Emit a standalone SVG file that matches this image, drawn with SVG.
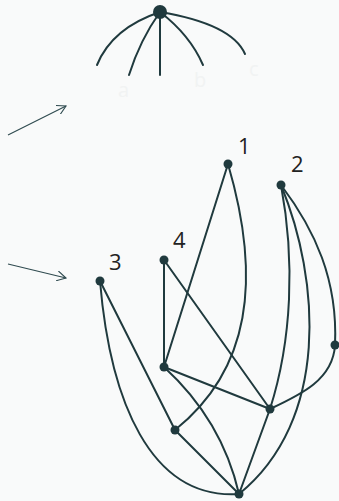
<svg xmlns="http://www.w3.org/2000/svg" width="339" height="501" viewBox="0 0 339 501">
<style>
.e{fill:none;stroke:#203a3e;stroke-width:2;stroke-linecap:round}
.n{fill:#203a3e}
.lbl{font-family:"Open Sans","Noto Sans",sans-serif;font-size:22px;fill:#222222}
.faint{font-family:"Open Sans","Noto Sans",sans-serif;font-size:20px;fill:#f1f3f3}
.arr{fill:none;stroke:#2f4a4f;stroke-width:1.1}
</style>
<defs>
<marker id="ah" viewBox="0 0 10 10" refX="9" refY="5" markerWidth="10" markerHeight="10" markerUnits="userSpaceOnUse" orient="auto">
<path d="M0,0 L9,5 L0,10" fill="none" stroke="#2f4a4f" stroke-width="1.1"/>
</marker>
</defs>
<rect width="339" height="501" fill="#f9fafa"/>
<g id="hub">
<g class="connectors">
<path class="e" d="M160,12 Q112,28 97,65"/>
<path class="e" d="M160,12 Q140,40 129,75"/>
<path class="e" d="M160,12 L160,75"/>
<path class="e" d="M160,12 Q190,35 203,65"/>
<path class="e" d="M160,12 Q232,24 245,54"/>
</g>
<circle class="n" cx="160" cy="12" r="7"/>
<text class="faint" x="118" y="97">a</text>
<text class="faint" x="194" y="87">b</text>
<text class="faint" x="249" y="76">c</text>
</g>
<g id="arrows">
<line class="arr" x1="8" y1="135" x2="66" y2="106" marker-end="url(#ah)"/>
<line class="arr" x1="8" y1="264" x2="66" y2="278" marker-end="url(#ah)"/>
</g>
<g id="connectors">
<path class="e" d="M228,164 L164,367"/>
<path class="e" d="M228,164 C262,280 250,370 175,430"/>
<path class="e" d="M164,260 L164,367"/>
<path class="e" d="M164,260 L270,409"/>
<path class="e" d="M100,281 L175,430"/>
<path class="e" d="M100,281 C110,400 150,500 239,494"/>
<path class="e" d="M164,367 L270,409"/>
<path class="e" d="M164,367 Q222,420 239,494"/>
<path class="e" d="M175,430 L239,494"/>
<path class="e" d="M270,409 L239,494"/>
<path class="e" d="M270,409 C300,395 333,380 335,345"/>
<path class="e" d="M281,185 C295,260 292,340 270,409"/>
<path class="e" d="M281,185 C320,280 330,420 239,494"/>
<path class="e" d="M281,185 C315,230 338,280 335,345"/>
</g>
<g id="node1"><circle class="n" cx="228" cy="164" r="4.5"/><text class="lbl" x="238" y="154">1</text></g>
<g id="node2"><circle class="n" cx="281" cy="185" r="4.5"/><text class="lbl" x="291" y="172">2</text></g>
<g id="node3"><circle class="n" cx="100" cy="281" r="4.5"/><text class="lbl" x="109" y="270">3</text></g>
<g id="node4"><circle class="n" cx="164" cy="260" r="4.5"/><text class="lbl" x="173" y="248">4</text></g>
<g id="nodeA"><circle class="n" cx="164" cy="367" r="4.5"/></g>
<g id="nodeB"><circle class="n" cx="270" cy="409" r="4.5"/></g>
<g id="nodeC"><circle class="n" cx="175" cy="430" r="4.5"/></g>
<g id="nodeD"><circle class="n" cx="239" cy="494" r="4.5"/></g>
<g id="nodeE"><circle class="n" cx="335" cy="345" r="4.5"/></g>
</svg>
